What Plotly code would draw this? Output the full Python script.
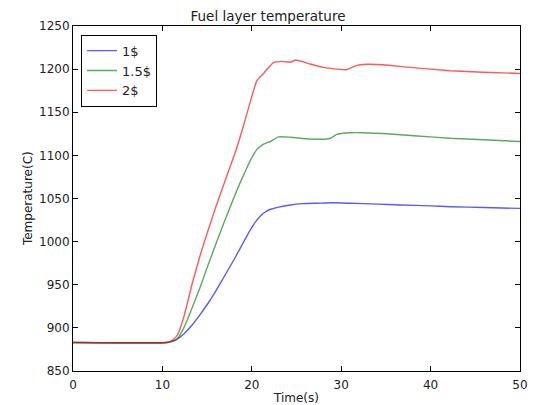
import plotly.graph_objects as go

t_blue = [0, 10.5, 11.0, 11.5, 12.4, 13.3, 14.25, 15.2, 16.1, 17.0, 18.0, 18.9, 19.8, 20.5, 21.0, 21.6, 22.1, 23.0, 24.3, 25.7, 27.3, 29.0, 31.0, 34.0, 36.6, 40.0, 42.2, 46.0, 50.0]
v_blue = [883, 883, 884, 886, 893, 903, 916, 930, 945, 961, 979, 996, 1013, 1024, 1030, 1035, 1037.5, 1040, 1042.5, 1044, 1044.5, 1045, 1044.5, 1043.5, 1042.5, 1041.5, 1040.5, 1039.5, 1038.5]

t_green = [0, 10.5, 11.0, 11.64, 12.4, 13.13, 14.25, 15.36, 16.85, 18.35, 19.2, 19.83, 20.58, 21.32, 22.07, 23.0, 24.3, 26.5, 28.4, 29.0, 29.5, 31.0, 32.5, 35.5, 38.5, 42.2, 45.9, 50.0]
v_green = [883, 883, 884, 887, 900, 918, 948, 980, 1021, 1060, 1080, 1094, 1107, 1113, 1116, 1121.5, 1121, 1119, 1119, 1121, 1124.4, 1126.3, 1126.3, 1124.8, 1122.5, 1119.8, 1118.2, 1116]

t_red = [0, 10.5, 11.0, 11.64, 12.38, 13.3, 14.25, 15.17, 16.1, 17.23, 18.27, 19.0, 19.83, 20.58, 21.32, 21.8, 22.44, 23.37, 24.3, 24.94, 26.5, 28.0, 29.5, 30.6, 31.2, 31.75, 32.9, 34.7, 37.7, 42.2, 45.9, 50.0]
v_red = [883, 883, 885, 891, 912, 950, 985, 1015, 1044, 1077, 1107, 1132, 1162, 1187, 1195, 1201, 1207.5, 1209, 1208, 1210.5, 1206, 1202, 1200, 1199.3, 1202, 1204.4, 1205.6, 1205.1, 1202, 1198.2, 1196.3, 1195]

x_ticks = [0, 10, 20, 30, 40, 50]
y_ticks = [850, 900, 950, 1000, 1050, 1100, 1150, 1200, 1250]

fig = go.Figure()
for t, v, name, col in [(t_blue, v_blue, "1$", "rgba(0,0,255,0.65)"),
                        (t_green, v_green, "1.5$", "rgba(0,128,0,0.65)"),
                        (t_red, v_red, "2$", "rgba(255,0,0,0.65)")]:
    fig.add_trace(go.Scatter(x=t, y=v, mode="lines", name=name,
                             line=dict(color=col, width=1.4, shape="spline", smoothing=0.5)))

font_fam = "DejaVu Sans"
axis_common = dict(showgrid=False, zeroline=False, showline=True, linecolor="black",
                   linewidth=1, mirror="ticks", ticks="inside", ticklen=5, automargin=False,
                   tickcolor="black", tickfont=dict(family=font_fam, size=12, color="#222"))

fig.update_layout(
    width=536, height=405,
    margin=dict(l=72.5, r=16, t=26, b=34),
    paper_bgcolor="white", plot_bgcolor="white",
    title=dict(text="Fuel layer temperature", x=0.5, xanchor="center",
               y=1 - 16 / 405, yanchor="middle", yref="container",
               font=dict(family=font_fam, size=13.5, color="#222")),
    xaxis=dict(range=[0, 50], tickvals=x_ticks, ticktext=[str(v) for v in x_ticks],
               ticklabelstandoff=3,
               title=dict(text="Time(s)", font=dict(family=font_fam, size=12, color="#222"), standoff=2),
               **axis_common),
    yaxis=dict(range=[850, 1250], tickvals=y_ticks, ticktext=[str(v) for v in y_ticks],
               ticklabelstandoff=0, **axis_common),
    legend=dict(x=0.018, y=0.975, xanchor="left", yanchor="top",
                bordercolor="black", borderwidth=1, bgcolor="white",
                font=dict(family=font_fam, size=13, color="#222"),
                tracegroupgap=0),
    showlegend=True,
)
fig.add_annotation(text="Temperature(C)", xref="paper", yref="paper",
                   x=(27 - 72.5) / 447.5, y=0.5, xanchor="center", yanchor="middle",
                   textangle=-90, showarrow=False,
                   font=dict(family=font_fam, size=12, color="#222"))

fig.write_html("out.html")
